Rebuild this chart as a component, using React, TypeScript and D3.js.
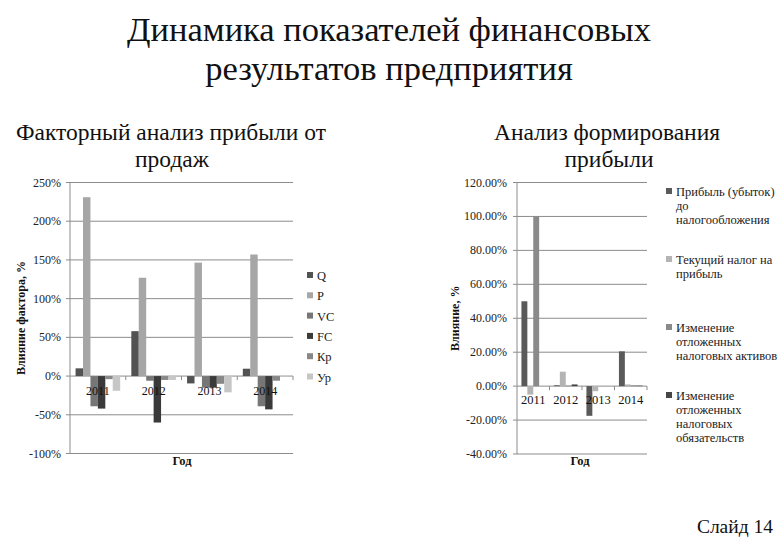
import React from 'react';
import * as d3 from 'd3';

const years = ['2011', '2012', '2013', '2014'];

// Факторный анализ прибыли от продаж, %
const factorNames = ['Q', 'P', 'VC', 'FC', 'Кр', 'Ур'];
const factorQ = [10, 58, -9.5, 9.5];
const factorP = [231, 127, 146.5, 157];
const factorVC = [-39, -6, -15, -39];
const factorFC = [-42, -60, -15, -43];
const factorKr = [-4, -5, -10, -6];
const factorUr = [-19, -5, -21, -1];
const factorTicks = [-100, -50, 0, 50, 100, 150, 200, 250];

// Анализ формирования прибыли, %
const profitNames = [
  ['Прибыль (убыток)', 'до', 'налогообложения'],
  ['Текущий налог на', 'прибыль'],
  ['Изменение', 'отложенных', 'налоговых активов'],
  ['Изменение', 'отложенных', 'налоговых', 'обязательств'],
];
const profitBeforeTax = [50, 0.5, -17.5, 20.5];
const currentTax = [-5, 8.5, -3, 1];
const deferredAssets = [100, 0.3, 0, 0.5];
const deferredLiabilities = [0, 1, 0, 0.3];
const profitTicks = [-40, -20, 0, 20, 40, 60, 80, 100, 120];

const factorColors = ['#525252', '#a6a6a6', '#767676', '#3a3a3a', '#888888', '#c6c6c6'];
const profitColors = ['#5a5a5a', '#b4b4b4', '#8a8a8a', '#454545'];

const serif = { fontFamily: "'Liberation Serif'" };
const GRID = '#8c8c8c';

export default function App() {
  const factorSeries = [factorQ, factorP, factorVC, factorFC, factorKr, factorUr];
  const profitSeries = [profitBeforeTax, currentTax, deferredAssets, deferredLiabilities];

  // left chart scales
  const x1 = d3.scaleBand().domain(years).range([70, 293]);
  const xs1 = d3.scaleBand<number>()
    .domain(d3.range(factorSeries.length))
    .range([0, x1.bandwidth()])
    .paddingOuter(0.75);
  const y1 = d3.scaleLinear().domain([-100, 250]).range([453.5, 182.5]);

  // right chart scales
  const x2 = d3.scaleBand().domain(years).range([517, 647]);
  const xs2 = d3.scaleBand<number>()
    .domain(d3.range(profitSeries.length))
    .range([0, x2.bandwidth()])
    .paddingOuter(0.75);
  const y2 = d3.scaleLinear().domain([-40, 120]).range([454, 182.5]);

  const fmt2 = (v: number) => `${v.toFixed(2)}%`;

  return (
    <div style={{ position: 'absolute', left: 0, top: 0 }}>
      <svg width={780} height={540} style={{ display: 'block', background: '#fff' }}>
        <text style={serif} x={389} y={41} textAnchor="middle" fontSize={34.5} fill="#111">Динамика показателей финансовых</text>
        <text style={serif} x={389} y={80} textAnchor="middle" fontSize={34.5} fill="#111">результатов предприятия</text>

        <text style={serif} x={171} y={140} textAnchor="middle" fontSize={23.5} fill="#111">Факторный анализ прибыли от</text>
        <text style={serif} x={172} y={167} textAnchor="middle" fontSize={23.5} fill="#111">продаж</text>
        <text style={serif} x={607} y={140} textAnchor="middle" fontSize={23.5} fill="#111">Анализ формирования</text>
        <text style={serif} x={609} y={167} textAnchor="middle" fontSize={23.5} fill="#111">прибыли</text>

        {/* Left chart */}
        <g>
          {factorTicks.map(t => (
            <g key={t}>
              <line x1={66} x2={293} y1={y1(t)} y2={y1(t)} stroke={GRID} strokeWidth={1} />
              <text style={serif} x={61} y={y1(t) + 4} textAnchor="end" fontSize={12} fill="#222">{`${t}%`}</text>
            </g>
          ))}
          <line x1={70} x2={70} y1={y1(250)} y2={y1(-100)} stroke={GRID} strokeWidth={1} />
          {years.map((yr, i) => (
            <g key={yr}>
              {factorSeries.map((s, j) => (
                <rect key={j}
                  x={(x1(yr) ?? 0) + (xs1(j) ?? 0)}
                  width={xs1.bandwidth()}
                  y={y1(Math.max(0, s[i]))}
                  height={Math.abs(y1(s[i]) - y1(0))}
                  fill={factorColors[j]} />
              ))}
              <line x1={(x1(yr) ?? 0) + x1.bandwidth()} x2={(x1(yr) ?? 0) + x1.bandwidth()}
                y1={y1(0)} y2={y1(0) + 4} stroke={GRID} />
              <text style={serif} x={(x1(yr) ?? 0) + x1.bandwidth() / 2} y={395} textAnchor="middle" fontSize={12} fill="#111">{yr}</text>
            </g>
          ))}
          <text style={serif} x={182} y={465} textAnchor="middle" fontSize={12.5} fontWeight="bold" fill="#111">Год</text>
          <text style={serif} transform={`translate(25,${(y1(250) + y1(-100)) / 2}) rotate(-90)`} textAnchor="middle"
            fontSize={12} fontWeight="bold" fill="#111">Влияние фактора, %</text>
          {factorNames.map((n, j) => (
            <g key={n} transform={`translate(307,${276 + j * 20.3})`}>
              <rect x={0} y={-4} width={6} height={6} fill={factorColors[j]} />
              <text style={serif} x={10} y={4} fontSize={12.5} fill="#222">{n}</text>
            </g>
          ))}
        </g>

        {/* Right chart */}
        <g>
          {profitTicks.map(t => (
            <g key={t}>
              <line x1={513} x2={647} y1={y2(t)} y2={y2(t)} stroke={GRID} strokeWidth={1} />
              <text style={serif} x={507} y={y2(t) + 4} textAnchor="end" fontSize={12} fill="#222">{fmt2(t)}</text>
            </g>
          ))}
          <line x1={517} x2={517} y1={y2(120)} y2={y2(-40)} stroke={GRID} strokeWidth={1} />
          {years.map((yr, i) => (
            <g key={yr}>
              {profitSeries.map((s, j) => (
                <rect key={j}
                  x={(x2(yr) ?? 0) + (xs2(j) ?? 0)}
                  width={xs2.bandwidth()}
                  y={y2(Math.max(0, s[i]))}
                  height={Math.abs(y2(s[i]) - y2(0))}
                  fill={profitColors[j]} />
              ))}
              <line x1={(x2(yr) ?? 0) + x2.bandwidth()} x2={(x2(yr) ?? 0) + x2.bandwidth()}
                y1={y2(0)} y2={y2(0) + 4} stroke={GRID} />
              <text style={serif} x={(x2(yr) ?? 0) + x2.bandwidth() / 2} y={404} textAnchor="middle" fontSize={12.5} fill="#111">{yr}</text>
            </g>
          ))}
          <text style={serif} x={580} y={465} textAnchor="middle" fontSize={12.5} fontWeight="bold" fill="#111">Год</text>
          <text style={serif} transform={`translate(459,${(y2(120) + y2(-40)) / 2}) rotate(-90)`} textAnchor="middle"
            fontSize={12} fontWeight="bold" fill="#111">Влияние, %</text>
          {profitNames.map((lines, j) => {
            const tops = [193, 261, 329, 397];
            return (
              <g key={j} transform={`translate(666,${tops[j]})`}>
                <rect x={0} y={-5} width={6} height={6} fill={profitColors[j]} />
                {lines.map((l, k) => (
                  <text style={serif} key={k} x={10} y={3 + k * 14} fontSize={12.5} fill="#222">{l}</text>
                ))}
              </g>
            );
          })}
        </g>

        <text style={serif} x={773} y={533} textAnchor="end" fontSize={19.5} fill="#111">Слайд 14</text>
      </svg>
    </div>
  );
}
